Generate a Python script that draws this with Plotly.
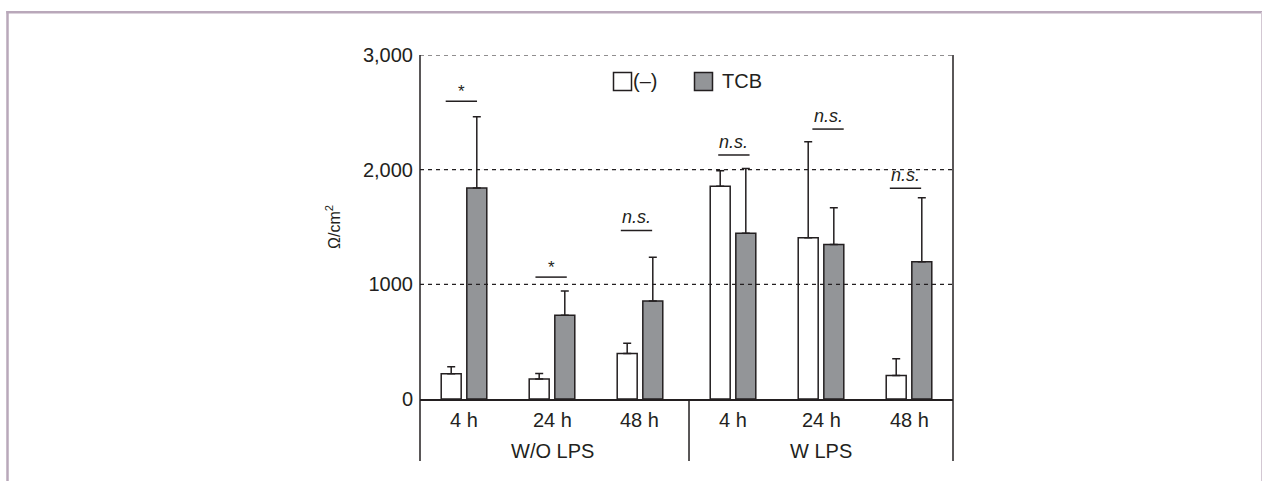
import plotly.graph_objects as go

# ---- data ----
hours = ["4 h", "24 h", "48 h"]
groups = ["W/O LPS", "W LPS"]
series_names = ["(–)", "TCB"]
neg_mean = [220, 174, 397, 1855, 1406, 206]
neg_sd = [61, 49, 90, 136, 837, 144]
tcb_mean = [1841, 730, 855, 1446, 1348, 1197]
tcb_sd = [620, 212, 382, 565, 319, 557]
sig_labels = ["*", "*", "n.s.", "n.s.", "n.s.", "n.s."]
sig_heights = [2597, 1063, 1470, 2128, 2354, 1837]
sig_shift = [-0.03, -0.01, -0.04, 0.01, 0.08, -0.04]
y_tickvals = [0, 1000, 2000, 3000]
y_ticktext = ["0", "1000", "2,000", "3,000"]
grid_vals = [1000, 2000, 3000]

# ---- style / layout ----
DARK = "#231f20"
GRAY = "#939598"
FONT = "Liberation Sans, Arial, sans-serif"
GROUP_GAP = 0.057
BAR_W = 0.227
INNER = 0.032

positions = []
for gi, g in enumerate(groups):
    for hi, h in enumerate(hours):
        positions.append(gi * (len(hours) + GROUP_GAP) + hi)

L, T, PW, PH = 420, 55, 533, 344
W_FIG, H_FIG = 1262, 481


def xp(px):
    return (px - L) / PW


def yp(py):
    return (T + PH - py) / PH


fig = go.Figure()
fig.add_trace(go.Bar(
    x=positions, y=neg_mean, name=series_names[0], width=BAR_W, offset=-(BAR_W + INNER),
    marker=dict(color="white", line=dict(color=DARK, width=1.5)),
    error_y=dict(type="data", array=neg_sd, arrayminus=[0] * len(neg_sd), symmetric=False,
                 width=4, thickness=1.5, color=DARK),
))
fig.add_trace(go.Bar(
    x=positions, y=tcb_mean, name=series_names[1], width=BAR_W, offset=INNER,
    marker=dict(color=GRAY, line=dict(color=DARK, width=1.5)),
    error_y=dict(type="data", array=tcb_sd, arrayminus=[0] * len(tcb_sd), symmetric=False,
                 width=4, thickness=1.5, color=DARK),
))

shapes = []
annotations = []

# dashed grid lines
for v in grid_vals:
    shapes.append(dict(type="line", xref="paper", yref="y", x0=0, x1=1, y0=v, y1=v,
                       line=dict(color=DARK, width=1.2, dash="4px,4px")))
# axis frame lines (left & right extending below plot), group separator
shapes.append(dict(type="line", xref="paper", yref="paper", x0=0, x1=0, y0=yp(461), y1=1,
                   line=dict(color=DARK, width=1.5)))
shapes.append(dict(type="line", xref="paper", yref="paper", x0=1, x1=1, y0=yp(461), y1=1,
                   line=dict(color=DARK, width=1.5)))
sep_x = positions[len(hours) - 1] + 0.5 + GROUP_GAP
shapes.append(dict(type="line", xref="x", yref="paper", x0=sep_x, x1=sep_x, y0=yp(461), y1=0,
                   line=dict(color=DARK, width=1.5)))

# significance bars
half = 0.178
for p, lab, h, s in zip(positions, sig_labels, sig_heights, sig_shift):
    c = p + s
    shapes.append(dict(type="line", xref="x", yref="y", x0=c - half, x1=c + half, y0=h, y1=h,
                       line=dict(color=DARK, width=1.5)))
    if lab == "*":
        annotations.append(dict(x=c, y=h, xref="x", yref="y", text="*", showarrow=False,
                                yanchor="bottom", yshift=-2, font=dict(size=17, color=DARK, family=FONT)))
    else:
        annotations.append(dict(x=c, y=h, xref="x", yref="y", text="<i>" + lab + "</i>", showarrow=False,
                                yanchor="bottom", yshift=1, font=dict(size=18, color=DARK, family=FONT)))

# x labels
for i, p in enumerate(positions):
    annotations.append(dict(x=p, y=0, xref="x", yref="paper", text=hours[i % len(hours)], showarrow=False,
                            yanchor="middle", yshift=-21, font=dict(size=20, color=DARK, family=FONT)))
for gi, g in enumerate(groups):
    gp = positions[gi * len(hours):(gi + 1) * len(hours)]
    annotations.append(dict(x=sum(gp) / len(gp), y=0, xref="x", yref="paper", text=g, showarrow=False,
                            yanchor="middle", yshift=-52, font=dict(size=20, color=DARK, family=FONT)))

# legend (manual, large swatches)
legend_items = [(613, "white", series_names[0]), (694, GRAY, series_names[1])]
for x0, col, name in legend_items:
    shapes.append(dict(type="rect", xref="paper", yref="paper", x0=xp(x0 + 0.5), x1=xp(x0 + 18.5),
                       y0=yp(90.5), y1=yp(72.5), fillcolor=col, line=dict(color=DARK, width=1.5)))
    annotations.append(dict(x=xp(x0 + 18 + (0 if col == "white" else 8)), y=yp(81), xref="paper", yref="paper",
                            text=name, showarrow=False, xanchor="left", yanchor="middle",
                            font=dict(size=20, color=DARK, family=FONT)))

# page border
BORDER = "#b9a8ba"
shapes.append(dict(type="line", xref="paper", yref="paper", x0=xp(7.5), x1=xp(7.5), y0=yp(500), y1=yp(11),
                   line=dict(color=BORDER, width=2.5)))
shapes.append(dict(type="line", xref="paper", yref="paper", x0=xp(6.3), x1=xp(1270), y0=yp(12.3), y1=yp(12.3),
                   line=dict(color=BORDER, width=2.5)))
shapes.append(dict(type="line", xref="paper", yref="paper", x0=xp(1261.5), x1=xp(1261.5), y0=yp(500), y1=yp(12),
                   line=dict(color="#d3c8d3", width=1)))

fig.update_layout(
    width=W_FIG, height=H_FIG,
    margin=dict(l=L, r=W_FIG - L - PW, t=T, b=H_FIG - T - PH, pad=0),
    paper_bgcolor="white", plot_bgcolor="white",
    showlegend=False,
    font=dict(family=FONT, color=DARK, size=20),
    xaxis=dict(range=[-0.5, 5.557], showticklabels=False, ticks="", showgrid=False, zeroline=False,
               showline=True, linecolor=DARK, linewidth=1.5),
    yaxis=dict(range=[0, 3000], tickvals=y_tickvals, ticktext=y_ticktext, ticks="", showgrid=False,
               zeroline=False, showline=False, ticklabelstandoff=6,
               tickfont=dict(size=20, color=DARK, family=FONT),
               title=dict(text="Ω/cm<sup>2</sup>", standoff=18, font=dict(size=16, color=DARK, family=FONT))),
    shapes=shapes, annotations=annotations,
)

fig.write_html(
    "out.html",
    config={"displayModeBar": False},
    post_script="document.body.style.margin='0';document.body.style.overflow='hidden';",
)
